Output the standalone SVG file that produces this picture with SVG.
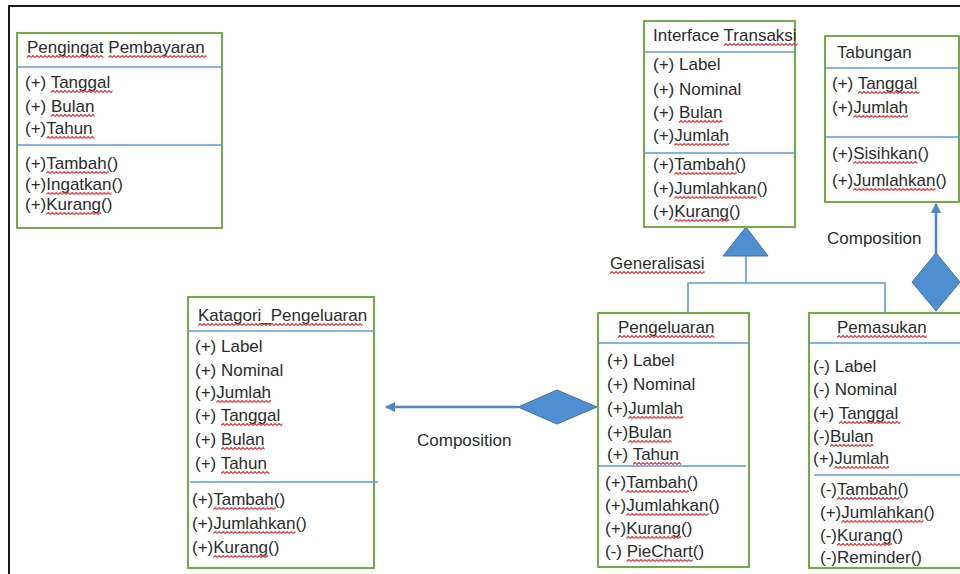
<svg xmlns="http://www.w3.org/2000/svg" width="960" height="574" viewBox="0 0 960 574">
<style>
.box{fill:#fff;stroke:#70ad47;stroke-width:2}
.div{stroke:#5b9bd5;stroke-width:1.6;fill:none}
.t{font-family:"Liberation Sans",Arial,sans-serif;font-size:17px;fill:#2b2b2b}
.sq{fill:url(#wv)}
.con{stroke:#5b9bd5;stroke-width:1.6;fill:none}
.conb{stroke:#4a89cc;stroke-width:2.6;fill:none}
.shape{fill:#4f8ed0;stroke:#41719c;stroke-width:1}
</style>
<defs>
<pattern id="wv" width="4" height="3" patternUnits="userSpaceOnUse">
<path d="M0,2.5 L2,0.5 L4,2.5" fill="none" stroke="#e0353a" stroke-width="1.2"/>
</pattern>
<marker id="ah" viewBox="0 0 10 10" refX="9" refY="5" markerWidth="4" markerHeight="4" orient="auto-start-reverse">
<path d="M0,0 L10,5 L0,10 z" fill="#4a89cc"/>
</marker>
</defs>
<rect width="960" height="574" fill="#fff"/>
<path d="M9,574 V6 H960" stroke="#1a1a1a" stroke-width="2" fill="none"/>

<g id="connectors">
<path class="con" d="M688,313 V283 H885 V313 M746,283 V256"/>
<polygon class="shape" points="746,227 723,256 768,256"/>
<line class="conb" x1="936" y1="254" x2="936" y2="204" marker-end="url(#ah)"/>
<polygon class="shape" points="936,253 960,282 936,311 912,282"/>
<line class="conb" x1="518" y1="407" x2="386" y2="407" marker-end="url(#ah)"/>
<polygon class="shape" points="518,407 557,390 597,407 557,424"/>
<text class="t" x="827" y="244">Composition</text>
<text class="t" x="417" y="446">Composition</text>
<text class="t" x="610" y="269">Generalisasi</text>
<rect class="sq" width="94.5" height="3" transform="translate(610,271)"/>
</g>

<g id="pengingat">
<rect class="box" x="17" y="33" width="205" height="195"/>
<line class="div" x1="17" y1="67" x2="222" y2="67"/>
<line class="div" x1="17" y1="145" x2="222" y2="145"/>
<text class="t" x="27" y="53">Pengingat Pembayaran</text>
<text class="t" x="25" y="88">(+) Tanggal</text>
<text class="t" x="25" y="112">(+) Bulan</text>
<text class="t" x="25" y="134">(+)Tahun</text>
<text class="t" x="25" y="169">(+)Tambah()</text>
<text class="t" x="25" y="190">(+)Ingatkan()</text>
<text class="t" x="25" y="210">(+)Kurang()</text>
<rect class="sq" width="76.5" height="3" transform="translate(27,55)"/>
<rect class="sq" width="98.1" height="3" transform="translate(108.3,55)"/>
<rect class="sq" width="61.4" height="3" transform="translate(51,90)"/>
<rect class="sq" width="43.5" height="3" transform="translate(51,114)"/>
<rect class="sq" width="48.2" height="3" transform="translate(46.3,136)"/>
<rect class="sq" width="62.4" height="3" transform="translate(46.3,171)"/>
<rect class="sq" width="65.2" height="3" transform="translate(46.3,192)"/>
<rect class="sq" width="54.8" height="3" transform="translate(46.3,212)"/>
</g>

<g id="interface">
<rect class="box" x="644" y="21" width="151" height="206"/>
<line class="div" x1="644" y1="52" x2="795" y2="52"/>
<line class="div" x1="644" y1="153" x2="795" y2="153"/>
<text class="t" x="653" y="41">Interface Transaksi</text>
<text class="t" x="653" y="70">(+) Label</text>
<text class="t" x="653" y="95">(+) Nominal</text>
<text class="t" x="653" y="118">(+) Bulan</text>
<text class="t" x="653" y="141">(+)Jumlah</text>
<text class="t" x="653" y="170">(+)Tambah()</text>
<text class="t" x="653" y="194">(+)Jumlahkan()</text>
<text class="t" x="653" y="217">(+)Kurang()</text>
<rect class="sq" width="73.7" height="3" transform="translate(723.9,43)"/>
<rect class="sq" width="43.5" height="3" transform="translate(679,120)"/>
<rect class="sq" width="54.8" height="3" transform="translate(674.3,143)"/>
<rect class="sq" width="62.4" height="3" transform="translate(674.3,172)"/>
<rect class="sq" width="82.2" height="3" transform="translate(674.3,196)"/>
<rect class="sq" width="54.8" height="3" transform="translate(674.3,219)"/>
</g>

<g id="tabungan">
<rect class="box" x="825" y="36" width="134" height="166"/>
<line class="div" x1="825" y1="68" x2="959" y2="68"/>
<line class="div" x1="825" y1="137" x2="959" y2="137"/>
<text class="t" x="837" y="58">Tabungan</text>
<text class="t" x="832" y="89">(+) Tanggal</text>
<text class="t" x="832" y="113">(+)Jumlah</text>
<text class="t" x="832" y="159">(+)Sisihkan()</text>
<text class="t" x="832" y="186">(+)Jumlahkan()</text>
<rect class="sq" width="61.4" height="3" transform="translate(858,91)"/>
<rect class="sq" width="54.8" height="3" transform="translate(853.3,115)"/>
<rect class="sq" width="64.2" height="3" transform="translate(853.3,161)"/>
<rect class="sq" width="82.2" height="3" transform="translate(853.3,188)"/>
</g>

<g id="katagori">
<rect class="box" x="188" y="297" width="186" height="271"/>
<line class="div" x1="188" y1="331" x2="374" y2="331"/>
<line class="div" x1="190" y1="482" x2="378" y2="482"/>
<text class="t" x="198" y="321">Katagori_Pengeluaran</text>
<text class="t" x="195" y="352">(+) Label</text>
<text class="t" x="195" y="376">(+) Nominal</text>
<text class="t" x="195" y="398">(+)Jumlah</text>
<text class="t" x="195" y="421">(+) Tanggal</text>
<text class="t" x="195" y="445">(+) Bulan</text>
<text class="t" x="195" y="469">(+) Tahun</text>
<text class="t" x="192" y="505">(+)Tambah()</text>
<text class="t" x="192" y="529">(+)Jumlahkan()</text>
<text class="t" x="192" y="553">(+)Kurang()</text>
<rect class="sq" width="164.5" height="3" transform="translate(198,323)"/>
<rect class="sq" width="54.8" height="3" transform="translate(216.3,400)"/>
<rect class="sq" width="61.4" height="3" transform="translate(221,423)"/>
<rect class="sq" width="43.5" height="3" transform="translate(221,447)"/>
<rect class="sq" width="48.2" height="3" transform="translate(221,471)"/>
<rect class="sq" width="62.4" height="3" transform="translate(213.3,507)"/>
<rect class="sq" width="82.2" height="3" transform="translate(213.3,531)"/>
<rect class="sq" width="54.8" height="3" transform="translate(213.3,555)"/>
</g>

<g id="pengeluaran">
<rect class="box" x="598" y="313" width="151" height="254"/>
<line class="div" x1="598" y1="343" x2="749" y2="343"/>
<line class="div" x1="598" y1="466" x2="746" y2="466"/>
<text class="t" x="618" y="333">Pengeluaran</text>
<text class="t" x="607" y="366">(+) Label</text>
<text class="t" x="607" y="390">(+) Nominal</text>
<text class="t" x="607" y="414">(+)Jumlah</text>
<text class="t" x="607" y="438">(+)Bulan</text>
<text class="t" x="607" y="460">(+) Tahun</text>
<text class="t" x="605" y="488">(+)Tambah()</text>
<text class="t" x="605" y="511">(+)Jumlahkan()</text>
<text class="t" x="605" y="534">(+)Kurang()</text>
<text class="t" x="605" y="557">(-) PieChart()</text>
<rect class="sq" width="96.4" height="3" transform="translate(618,335)"/>
<rect class="sq" width="54.8" height="3" transform="translate(628.3,416)"/>
<rect class="sq" width="43.5" height="3" transform="translate(628.3,440)"/>
<rect class="sq" width="48.2" height="3" transform="translate(633,462)"/>
<rect class="sq" width="62.4" height="3" transform="translate(626.3,490)"/>
<rect class="sq" width="82.2" height="3" transform="translate(626.3,513)"/>
<rect class="sq" width="54.8" height="3" transform="translate(626.3,536)"/>
<rect class="sq" width="66.1" height="3" transform="translate(626.7,559)"/>
</g>

<g id="pemasukan">
<rect class="box" x="809" y="313" width="152" height="255"/>
<line class="div" x1="809" y1="343" x2="960" y2="343"/>
<line class="div" x1="814" y1="475" x2="960" y2="475"/>
<text class="t" x="837" y="333">Pemasukan</text>
<text class="t" x="813" y="372">(-) Label</text>
<text class="t" x="813" y="395">(-) Nominal</text>
<text class="t" x="813" y="419">(+) Tanggal</text>
<text class="t" x="813" y="442">(-)Bulan</text>
<text class="t" x="813" y="464">(+)Jumlah</text>
<text class="t" x="820" y="495">(-)Tambah()</text>
<text class="t" x="820" y="518">(+)Jumlahkan()</text>
<text class="t" x="820" y="541">(-)Kurang()</text>
<text class="t" x="820" y="563">(-)Reminder()</text>
<rect class="sq" width="89.8" height="3" transform="translate(837,335)"/>
<rect class="sq" width="61.4" height="3" transform="translate(839,421)"/>
<rect class="sq" width="43.5" height="3" transform="translate(830,444)"/>
<rect class="sq" width="54.8" height="3" transform="translate(834.3,466)"/>
<rect class="sq" width="62.4" height="3" transform="translate(837,497)"/>
<rect class="sq" width="82.2" height="3" transform="translate(841.3,520)"/>
<rect class="sq" width="54.8" height="3" transform="translate(837,543)"/>
</g>
</svg>
